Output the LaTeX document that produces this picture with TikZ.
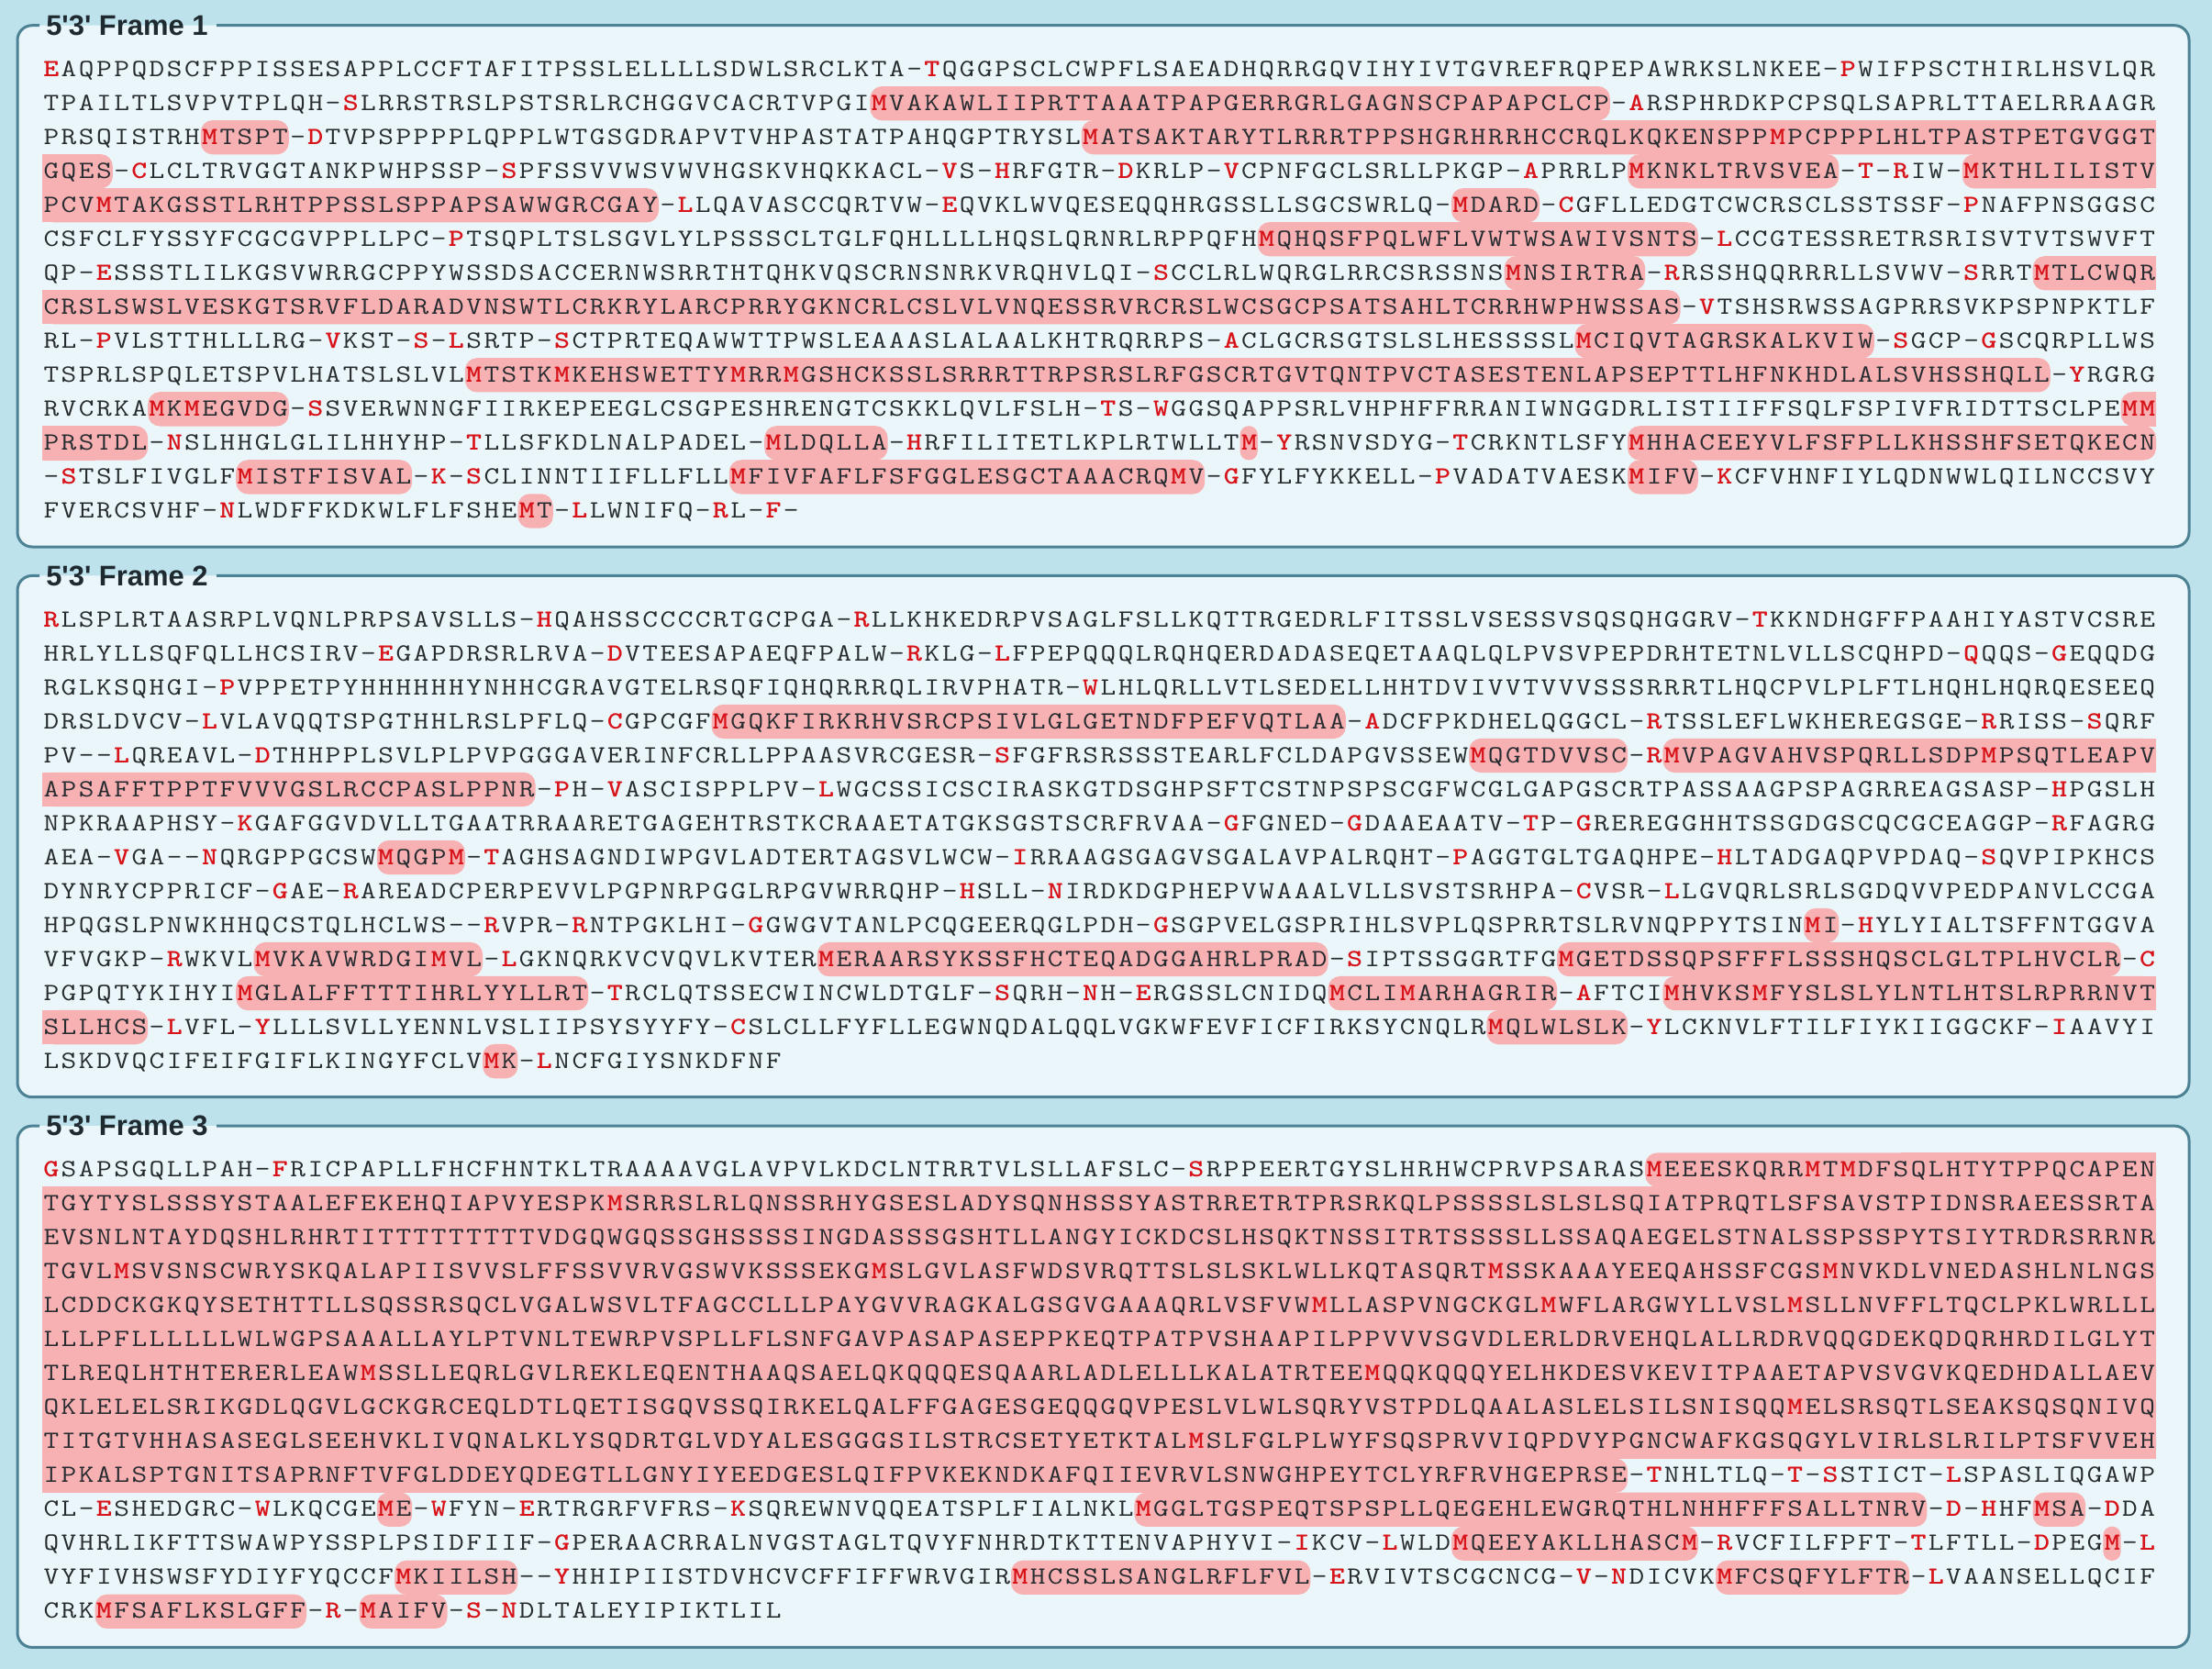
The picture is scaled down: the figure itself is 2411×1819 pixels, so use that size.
\documentclass[tikz,border=0pt]{standalone}
\usepackage{fontspec}
\usepackage{graphicx}
\newfontfamily\legendfont{Liberation Sans}

\definecolor{pagebg}{HTML}{BEE2EC}
\definecolor{panelbg}{HTML}{EBF6FA}
\definecolor{panelline}{HTML}{4C8294}
\definecolor{orfpink}{HTML}{F8B1B3}
\definecolor{startred}{HTML}{D8141B}
\definecolor{seqink}{HTML}{262B30}
\definecolor{legendink}{HTML}{1F2A30}

\pgfdeclarelayer{panel}
\pgfdeclarelayer{orf}
\pgfsetlayers{panel,orf,main}

\tikzset{
  seqrow/.style={anchor=base west, inner sep=0pt, text=seqink, font=\ttfamily\fontsize{19.2}{21}\selectfont},
  frametitle/.style={anchor=west, inner sep=0pt, text=legendink, font=\legendfont\bfseries\fontsize{22}{26}\selectfont},
}

\newcommand\seqx{46}
\newcommand\seqy{83.3}
\newcommand\seqtag{1}

% one residue cell, 19.2px wide
\newcommand\orfcell[1]{\makebox[4.8mm]{\scalebox{1.2}[1]{#1}}}
\newcommand\orfhot[1]{\makebox[4.8mm]{\bfseries\color{startred}\scalebox{1.2}[1]{#1}}}
% one row of residues
\newcommand\orfrow[2]{\node[seqrow] (f\seqtag-#1) at (\seqx,{\seqy+37.02*#1}) {#2};}

% one piece of an open reading frame: row, first col, last col, round left, round right
\newcommand\orfbox[5]{%
  \pgfmathsetmacro\xa{\seqx+19.2*#2}%
  \pgfmathsetmacro\xb{\seqx+19.2*(#3+1)}%
  \pgfmathsetmacro\xm{(\xa+\xb)/2}%
  \pgfmathsetmacro\ya{\seqy+37.02*#1-26.3}%
  \pgfmathsetmacro\yb{\ya+37.3}%
  \pgfmathsetmacro\rr{0.25*min(13,9.6*(#3-#2+1))}%
  \begin{pgfonlayer}{orf}
    \fill[orfpink, rounded corners=\rr mm] (\xa,\ya) rectangle (\xb,\yb);
    \ifnum#4=0 \fill[orfpink] (\xa,\ya) rectangle (\xm,\yb);\fi
    \ifnum#5=0 \fill[orfpink] (\xm,\ya) rectangle (\xb,\yb);\fi
  \end{pgfonlayer}}

\ExplSyntaxOn
\bool_new:N \g_orf_on_bool
\bool_new:N \g_orf_pend_bool
\bool_new:N \g_orf_lft_bool
\int_new:N \g_orf_srow_int
\int_new:N \g_orf_scol_int
\int_new:N \g_orf_row_int
\int_new:N \g_orf_col_int
\tl_new:N \g_orf_prev_tl
\tl_new:N \g_orf_line_tl
\tl_gset:Nn \g_orf_prev_tl {-}

\cs_new_protected:Npn \orf_box:nn #1#2
  {
    \use:e
      {
        \exp_not:N \orfbox
          { \int_use:N \g_orf_srow_int }
          { \int_use:N \g_orf_scol_int }
          { \int_eval:n {#1} }
          { \bool_if:NTF \g_orf_lft_bool {1} {0} }
          {#2}
      }
  }

\cs_new_protected:Npn \orf_char:n #1
  {
    \bool_if:NT \g_orf_pend_bool
      {
        \bool_gset_false:N \g_orf_pend_bool
        \str_if_eq:nnTF {#1} {-}
          {
            \orf_box:nn {119} {1}
            \bool_gset_false:N \g_orf_on_bool
          }
          {
            \orf_box:nn {119} {0}
            \int_gset_eq:NN \g_orf_srow_int \g_orf_row_int
            \int_gzero:N \g_orf_scol_int
            \bool_gset_false:N \g_orf_lft_bool
          }
      }
    \bool_if:NTF \g_orf_on_bool
      {
        \str_if_eq:nnT {#1} {-}
          {
            \orf_box:nn { \g_orf_col_int - 1 } {1}
            \bool_gset_false:N \g_orf_on_bool
          }
      }
      {
        \str_if_eq:nnT {#1} {M}
          {
            \bool_gset_true:N \g_orf_on_bool
            \int_gset_eq:NN \g_orf_srow_int \g_orf_row_int
            \int_gset_eq:NN \g_orf_scol_int \g_orf_col_int
            \bool_gset_true:N \g_orf_lft_bool
          }
      }
    \bool_lazy_or:nnTF
      { \str_if_eq_p:nn {#1} {M} }
      {
        \bool_lazy_and_p:nn
          { \str_if_eq_p:Vn \g_orf_prev_tl {-} }
          { ! \str_if_eq_p:nn {#1} {-} }
      }
      { \tl_gput_right:Nn \g_orf_line_tl { \orfhot {#1} } }
      { \tl_gput_right:Nn \g_orf_line_tl { \orfcell {#1} } }
    \tl_gset:Nn \g_orf_prev_tl {#1}
    \int_gincr:N \g_orf_col_int
  }

\cs_new_protected:Npn \orf_line:n #1
  {
    \int_gzero:N \g_orf_col_int
    \tl_gclear:N \g_orf_line_tl
    \tl_map_inline:nn {#1} { \orf_char:n {##1} }
    \bool_if:NT \g_orf_on_bool { \bool_gset_true:N \g_orf_pend_bool }
    \use:e
      {
        \exp_not:N \orfrow
          { \int_use:N \g_orf_row_int }
          { \exp_not:V \g_orf_line_tl }
      }
    \int_gincr:N \g_orf_row_int
  }

\cs_new_protected:Npn \orf_done:
  {
    \bool_if:NT \g_orf_pend_bool
      { \orf_box:nn { \g_orf_col_int - 1 } {1} }
    \bool_gset_false:N \g_orf_pend_bool
    \bool_gset_false:N \g_orf_on_bool
    \int_gzero:N \g_orf_row_int
    \tl_gset:Nn \g_orf_prev_tl {-}
  }

\NewDocumentCommand \seqline { m } { \orf_line:n {#1} }
\NewDocumentCommand \seqdone { } { \orf_done: }
\ExplSyntaxOff

\begin{document}
\begin{tikzpicture}[x=0.25mm, y=-0.25mm]
    \useasboundingbox (0,0) rectangle (2411,1819);
    \begin{pgfonlayer}{panel}
    \fill[pagebg] (0,0) rectangle (2411,1819);
    \foreach \f in {0,1,2}
    {   \fill[panelbg, rounded corners=4mm] (19,{27.7+599.7*\f}) rectangle (2386,{596+599.7*\f});
        \draw[panelline, line width=0.75mm, rounded corners=4mm] (236,{27.7+599.7*\f}) -- (2386,{27.7+599.7*\f})
            -- (2386,{596+599.7*\f}) -- (19,{596+599.7*\f}) -- (19,{27.7+599.7*\f}) -- (43,{27.7+599.7*\f});
    }
    \end{pgfonlayer}
    \node[frametitle] (title1) at (50,27.7) {5\textquotesingle3\textquotesingle{} Frame 1};
    \node[frametitle] (title2) at (50,627.4) {5\textquotesingle3\textquotesingle{} Frame 2};
    \node[frametitle] (title3) at (50,1227.1) {5\textquotesingle3\textquotesingle{} Frame 3};

    % frame 1
    \renewcommand\seqy{83.3}\renewcommand\seqtag{1}
    \seqline{EAQPPQDSCFPPISSESAPPLCCFTAFITPSSLELLLLSDWLSRCLKTA-TQGGPSCLCWPFLSAEADHQRRGQVIHYIVTGVREFRQPEPAWRKSLNKEE-PWIFPSCTHIRLHSVLQR}
    \seqline{TPAILTLSVPVTPLQH-SLRRSTRSLPSTSRLRCHGGVCACRTVPGIMVAKAWLIIPRTTAAATPAPGERRGRLGAGNSCPAPAPCLCP-ARSPHRDKPCPSQLSAPRLTTAELRRAAGR}
    \seqline{PRSQISTRHMTSPT-DTVPSPPPPLQPPLWTGSGDRAPVTVHPASTATPAHQGPTRYSLMATSAKTARYTLRRRTPPSHGRHRRHCCRQLKQKENSPPMPCPPPLHLTPASTPETGVGGT}
    \seqline{GQES-CLCLTRVGGTANKPWHPSSP-SPFSSVVWSVWVHGSKVHQKKACL-VS-HRFGTR-DKRLP-VCPNFGCLSRLLPKGP-APRRLPMKNKLTRVSVEA-T-RIW-MKTHLILISTV}
    \seqline{PCVMTAKGSSTLRHTPPSSLSPPAPSAWWGRCGAY-LLQAVASCCQRTVW-EQVKLWVQESEQQHRGSSLLSGCSWRLQ-MDARD-CGFLLEDGTCWCRSCLSSTSSF-PNAFPNSGGSC}
    \seqline{CSFCLFYSSYFCGCGVPPLLPC-PTSQPLTSLSGVLYLPSSSCLTGLFQHLLLLHQSLQRNRLRPPQFHMQHQSFPQLWFLVWTWSAWIVSNTS-LCCGTESSRETRSRISVTVTSWVFT}
    \seqline{QP-ESSSTLILKGSVWRRGCPPYWSSDSACCERNWSRRTHTQHKVQSCRNSNRKVRQHVLQI-SCCLRLWQRGLRRCSRSSNSMNSIRTRA-RRSSHQQRRRLLSVWV-SRRTMTLCWQR}
    \seqline{CRSLSWSLVESKGTSRVFLDARADVNSWTLCRKRYLARCPRRYGKNCRLCSLVLVNQESSRVRCRSLWCSGCPSATSAHLTCRRHWPHWSSAS-VTSHSRWSSAGPRRSVKPSPNPKTLF}
    \seqline{RL-PVLSTTHLLLRG-VKST-S-LSRTP-SCTPRTEQAWWTTPWSLEAAASLALAALKHTRQRRPS-ACLGCRSGTSLSLHESSSSLMCIQVTAGRSKALKVIW-SGCP-GSCQRPLLWS}
    \seqline{TSPRLSPQLETSPVLHATSLSLVLMTSTKMKEHSWETTYMRRMGSHCKSSLSRRRTTRPSRSLRFGSCRTGVTQNTPVCTASESTENLAPSEPTTLHFNKHDLALSVHSSHQLL-YRGRG}
    \seqline{RVCRKAMKMEGVDG-SSVERWNNGFIIRKEPEEGLCSGPESHRENGTCSKKLQVLFSLH-TS-WGGSQAPPSRLVHPHFFRRANIWNGGDRLISTIIFFSQLFSPIVFRIDTTSCLPEMM}
    \seqline{PRSTDL-NSLHHGLGLILHHYHP-TLLSFKDLNALPADEL-MLDQLLA-HRFILITETLKPLRTWLLTM-YRSNVSDYG-TCRKNTLSFYMHHACEEYVLFSFPLLKHSSHFSETQKECN}
    \seqline{-STSLFIVGLFMISTFISVAL-K-SCLINNTIIFLLFLLMFIVFAFLFSFGGLESGCTAAACRQMV-GFYLFYKKELL-PVADATVAESKMIFV-KCFVHNFIYLQDNWWLQILNCCSVY}
    \seqline{FVERCSVHF-NLWDFFKDKWLFLFSHEMT-LLWNIFQ-RL-F-}
    \seqdone

    % frame 2
    \renewcommand\seqy{683.0}\renewcommand\seqtag{2}
    \seqline{RLSPLRTAASRPLVQNLPRPSAVSLLS-HQAHSSCCCCRTGCPGA-RLLKHKEDRPVSAGLFSLLKQTTRGEDRLFITSSLVSESSVSQSQHGGRV-TKKNDHGFFPAAHIYASTVCSRE}
    \seqline{HRLYLLSQFQLLHCSIRV-EGAPDRSRLRVA-DVTEESAPAEQFPALW-RKLG-LFPEPQQQLRQHQERDADASEQETAAQLQLPVSVPEPDRHTETNLVLLSCQHPD-QQQS-GEQQDG}
    \seqline{RGLKSQHGI-PVPPETPYHHHHHHYNHHCGRAVGTELRSQFIQHQRRRQLIRVPHATR-WLHLQRLLVTLSEDELLHHTDVIVVTVVVSSSRRRTLHQCPVLPLFTLHQHLHQRQESEEQ}
    \seqline{DRSLDVCV-LVLAVQQTSPGTHHLRSLPFLQ-CGPCGFMGQKFIRKRHVSRCPSIVLGLGETNDFPEFVQTLAA-ADCFPKDHELQGGCL-RTSSLEFLWKHEREGSGE-RRISS-SQRF}
    \seqline{PV--LQREAVL-DTHHPPLSVLPLPVPGGGAVERINFCRLLPPAASVRCGESR-SFGFRSRSSSTEARLFCLDAPGVSSEWMQGTDVVSC-RMVPAGVAHVSPQRLLSDPMPSQTLEAPV}
    \seqline{APSAFFTPPTFVVVGSLRCCPASLPPNR-PH-VASCISPPLPV-LWGCSSICSCIRASKGTDSGHPSFTCSTNPSPSCGFWCGLGAPGSCRTPASSAAGPSPAGRREAGSASP-HPGSLH}
    \seqline{NPKRAAPHSY-KGAFGGVDVLLTGAATRRAARETGAGEHTRSTKCRAAETATGKSGSTSCRFRVAA-GFGNED-GDAAEAATV-TP-GREREGGHHTSSGDGSCQCGCEAGGP-RFAGRG}
    \seqline{AEA-VGA--NQRGPPGCSWMQGPM-TAGHSAGNDIWPGVLADTERTAGSVLWCW-IRRAAGSGAGVSGALAVPALRQHT-PAGGTGLTGAQHPE-HLTADGAQPVPDAQ-SQVPIPKHCS}
    \seqline{DYNRYCPPRICF-GAE-RAREADCPERPEVVLPGPNRPGGLRPGVWRRQHP-HSLL-NIRDKDGPHEPVWAAALVLLSVSTSRHPA-CVSR-LLGVQRLSRLSGDQVVPEDPANVLCCGA}
    \seqline{HPQGSLPNWKHHQCSTQLHCLWS--RVPR-RNTPGKLHI-GGWGVTANLPCQGEERQGLPDH-GSGPVELGSPRIHLSVPLQSPRRTSLRVNQPPYTSINMI-HYLYIALTSFFNTGGVA}
    \seqline{VFVGKP-RWKVLMVKAVWRDGIMVL-LGKNQRKVCVQVLKVTERMERAARSYKSSFHCTEQADGGAHRLPRAD-SIPTSSGGRTFGMGETDSSQPSFFFLSSSHQSCLGLTPLHVCLR-C}
    \seqline{PGPQTYKIHYIMGLALFFTTTIHRLYYLLRT-TRCLQTSSECWINCWLDTGLF-SQRH-NH-ERGSSLCNIDQMCLIMARHAGRIR-AFTCIMHVKSMFYSLSLYLNTLHTSLRPRRNVT}
    \seqline{SLLHCS-LVFL-YLLLSVLLYENNLVSLIIPSYSYYFY-CSLCLLFYFLLEGWNQDALQQLVGKWFEVFICFIRKSYCNQLRMQLWLSLK-YLCKNVLFTILFIYKIIGGCKF-IAAVYI}
    \seqline{LSKDVQCIFEIFGIFLKINGYFCLVMK-LNCFGIYSNKDFNF}
    \seqdone

    % frame 3
    \renewcommand\seqy{1282.7}\renewcommand\seqtag{3}
    \seqline{GSAPSGQLLPAH-FRICPAPLLFHCFHNTKLTRAAAAVGLAVPVLKDCLNTRRTVLSLLAFSLC-SRPPEERTGYSLHRHWCPRVPSARASMEEESKQRRMTMDFSQLHTYTPPQCAPEN}
    \seqline{TGYTYSLSSSYSTAALEFEKEHQIAPVYESPKMSRRSLRLQNSSRHYGSESLADYSQNHSSSYASTRRETRTPRSRKQLPSSSSLSLSLSQIATPRQTLSFSAVSTPIDNSRAEESSRTA}
    \seqline{EVSNLNTAYDQSHLRHRTITTTTTTTTTVDGQWGQSSGHSSSSINGDASSSGSHTLLANGYICKDCSLHSQKTNSSITRTSSSSLLSSAQAEGELSTNALSSPSSPYTSIYTRDRSRRNR}
    \seqline{TGVLMSVSNSCWRYSKQALAPIISVVSLFFSSVVRVGSWVKSSSEKGMSLGVLASFWDSVRQTTSLSLSKLWLLKQTASQRTMSSKAAAYEEQAHSSFCGSMNVKDLVNEDASHLNLNGS}
    \seqline{LCDDCKGKQYSETHTTLLSQSSRSQCLVGALWSVLTFAGCCLLLPAYGVVRAGKALGSGVGAAAQRLVSFVWMLLASPVNGCKGLMWFLARGWYLLVSLMSLLNVFFLTQCLPKLWRLLL}
    \seqline{LLLPFLLLLLLWLWGPSAAALLAYLPTVNLTEWRPVSPLLFLSNFGAVPASAPASEPPKEQTPATPVSHAAPILPPVVVSGVDLERLDRVEHQLALLRDRVQQGDEKQDQRHRDILGLYT}
    \seqline{TLREQLHTHTERERLEAWMSSLLEQRLGVLREKLEQENTHAAQSAELQKQQQESQAARLADLELLLKALATRTEEMQQKQQQYELHKDESVKEVITPAAETAPVSVGVKQEDHDALLAEV}
    \seqline{QKLELELSRIKGDLQGVLGCKGRCEQLDTLQETISGQVSSQIRKELQALFFGAGESGEQQGQVPESLVLWLSQRYVSTPDLQAALASLELSILSNISQQMELSRSQTLSEAKSQSQNIVQ}
    \seqline{TITGTVHHASASEGLSEEHVKLIVQNALKLYSQDRTGLVDYALESGGGSILSTRCSETYETKTALMSLFGLPLWYFSQSPRVVIQPDVYPGNCWAFKGSQGYLVIRLSLRILPTSFVVEH}
    \seqline{IPKALSPTGNITSAPRNFTVFGLDDEYQDEGTLLGNYIYEEDGESLQIFPVKEKNDKAFQIIEVRVLSNWGHPEYTCLYRFRVHGEPRSE-TNHLTLQ-T-SSTICT-LSPASLIQGAWP}
    \seqline{CL-ESHEDGRC-WLKQCGEME-WFYN-ERTRGRFVFRS-KSQREWNVQQEATSPLFIALNKLMGGLTGSPEQTSPSPLLQEGEHLEWGRQTHLNHHFFFSALLTNRV-D-HHFMSA-DDA}
    \seqline{QVHRLIKFTTSWAWPYSSPLPSIDFIIF-GPERAACRRALNVGSTAGLTQVYFNHRDTKTTENVAPHYVI-IKCV-LWLDMQEEYAKLLHASCM-RVCFILFPFT-TLFTLL-DPEGM-L}
    \seqline{VYFIVHSWSFYDIYFYQCCFMKIILSH--YHHIPIISTDVHCVCFFIFFWRVGIRMHCSSLSANGLRFLFVL-ERVIVTSCGCNCG-V-NDICVKMFCSQFYLFTR-LVAANSELLQCIF}
    \seqline{CRKMFSAFLKSLGFF-R-MAIFV-S-NDLTALEYIPIKTLIL}
    \seqdone
\end{tikzpicture}
\end{document}
